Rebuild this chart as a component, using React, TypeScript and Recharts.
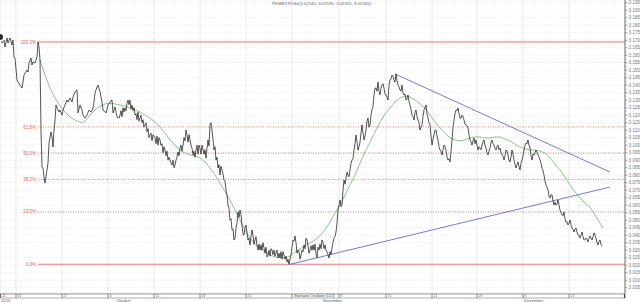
import React from 'react';
import { ComposedChart, Line, XAxis, YAxis, CartesianGrid, ReferenceLine } from 'recharts';

// time index (hours since start of window) and closing prices
const priceTimes = [0,2,4,5,7,8,10,12,13,14,15,17,18,20,22,23,24,25,27,28,29,31,32,33,35,37,38,39,40,41,42,43,44,45,47,48,49,51,52,53,54,55,56,57,59,60,62,63,65,67,68,70,72,73,75,77,78,80,82,83,85,87,89,91,93,94,95,97,98,100,102,103,106,108,110,112,113,115,117,119,
120,125,128,132,135,140,145,150,155,160,165,170,172,175,178,180,183,186,190,193,196,200,203,206,208,210,212,214,216,218,220,222,224,226,228,230,232,234,236,238,240,242,244,246,248,250,252,255,258,261,264,268,272,276,280,284,287,289,291,293,295,298,301,304,307,310,313,316,319,322,325,327,329,332,334,336,338,340,342,344,346,348,350,352,354,356,358,360,362,364,366,368,370,372,374,376,378,380,382,384,386,388,390,392,394,396,398,400,402,404,406,408,410,412,414,416,418,420,422,424,426,428,430,432,434,436,438,440,442,444,446,448,450,452,454,456,458,460,462,464,466,468,470,472,474,476,478,480,482,484,486,488,490,492,494,496,498,500,502,504,506,508,510,512,514,516,518,520,522,524,526,528,530,532,534,536,538,540,542,544,546,548,550,552,554,556,558,560,562,564,566,568,570,572,574,576,578,580,582,584,586,588,590,592,594,596,598,600,602];
const prices = [3.1721,3.1681,3.1701,3.1655,3.1715,3.1681,3.1715,3.1668,3.1701,3.1588,3.1581,3.1435,3.1421,3.1401,3.1381,3.1421,3.1468,3.1481,3.1501,3.1488,3.1548,3.1581,3.1535,3.1555,3.1548,3.1588,3.1688,3.1655,3.1568,3.1101,3.0855,3.0848,3.0788,3.0748,3.0835,3.0881,3.1015,3.1088,3.1055,3.0988,3.1101,3.1168,3.1268,3.1248,3.1221,3.1235,3.1201,3.1235,3.1268,3.1301,3.1288,3.1315,3.1288,3.1321,3.1355,3.1368,3.1215,3.1268,3.1235,3.1201,3.1181,3.1201,3.1235,3.1221,3.1248,3.1288,3.1348,3.1388,3.1401,3.1355,3.1288,3.1235,3.1215,3.1268,3.1288,3.1301,3.1215,3.1255,3.1188,3.1181,
3.1201,3.1248,3.1301,3.1268,3.1201,3.1181,3.1135,3.1068,3.1048,3.1035,3.0968,3.0901,3.0868,3.0868,3.0955,3.0981,3.1001,3.1101,3.1035,3.0935,3.0968,3.0981,3.0968,3.0915,3.1035,3.1135,3.1101,3.0968,3.0901,3.0848,3.0801,3.0835,3.0768,3.0701,3.0601,3.0501,3.0435,3.0368,3.0448,3.0555,3.0568,3.0468,3.0401,3.0468,3.0368,3.0335,3.0435,3.0368,3.0301,3.0335,3.0315,3.0268,3.0301,3.0281,3.0248,3.0268,3.0221,3.0206,3.0268,3.0368,3.0395,3.0301,3.0268,3.0335,3.0368,3.0301,3.0335,3.0275,3.0301,3.0368,3.0335,3.0288,3.0248,3.0315,3.0381,3.0421,3.0568,3.0635,3.0601,3.0768,3.0781,3.0801,3.0835,3.0901,3.0968,3.1068,3.0968,3.1021,3.1135,3.1035,3.1101,3.1181,3.1135,3.1235,3.1335,3.1381,3.1421,3.1335,3.1401,3.1381,3.1335,3.1301,3.1435,3.1468,3.1435,3.1475,3.1401,3.1368,3.1401,3.1335,3.1301,3.1335,3.1268,3.1201,3.1168,3.1235,3.1168,3.1101,3.1135,3.1235,3.1268,3.1181,3.1135,3.1001,3.1068,3.1101,3.1035,3.0968,3.0935,3.1001,3.0968,3.0901,3.0888,3.1035,3.1168,3.1235,3.1248,3.1181,3.1201,3.1168,3.1135,3.1115,3.1035,3.1001,3.1048,3.1035,3.0968,3.0981,3.1001,3.1035,3.0981,3.0935,3.0981,3.1035,3.1001,3.0968,3.1001,3.0981,3.0935,3.0901,3.0968,3.0935,3.0888,3.0968,3.0901,3.0848,3.0888,3.0835,3.0901,3.0968,3.1015,3.1035,3.0981,3.0901,3.0935,3.0968,3.0935,3.0901,3.0848,3.0801,3.0735,3.0701,3.0648,3.0668,3.0601,3.0601,3.0635,3.0568,3.0535,3.0555,3.0488,3.0468,3.0501,3.0448,3.0421,3.0448,3.0401,3.0381,3.0421,3.0368,3.0381,3.0355,3.0395,3.0368,3.0415,3.0381,3.0335,3.0368,3.0328];

// intermediate (in-between) closes
const priceTimesFine = [121,122,123,124,126,127,129,130,131,133,134,136,137,138,139,141,142,143,144,146,147,148,149,151,152,153,154,156,157,158,159,161,162,163,164,166,167,168,169,171,173,174,176,177,179,181,182,184,185,187,188,189,191,192,194,195,197,198,199,201,202,204,205,207,
209,211,213,215,217,219,221,223,225,227,229,231,233,235,237,239,241,243,245,247,249,251,253,254,256,257,259,260,262,263,265,266,267,269,270,271,273,274,275,277,278,279,281,282,283,285,286,288,290,292,294,296,297,299,300,302,303,305,306,308,309,311,312,314,315,317,318,320,321,323,324,326,328,330,331,333,335,337,339,341,343,345,347,349,351,353,355,357,359,361,363,365,367,369,371,373,375,377,379,381,383,385,387,389,391,393,395,397,399,401,403,405,407,409,411,413,415,417,419,421,423,425,427,429,431,433,435,437,439,441,443,445,447,449,451,453,455,457,459,461,463,465,467,469,471,473,475,477,479,481,483,485,487,489,491,493,495,497,499,501,503,505,507,509,511,513,515,517,519,521,523,525,527,529,531,533,535,537,539,541,543,545,547,549,551,553,555,557,559,561,563,565,567,569,571,573,575,577,579,581,583,585,587,589,591,593,595,597,599,601];
const pricesFine = [3.1230,3.1190,3.1250,3.1220,3.1230,3.1280,3.1270,3.1300,3.1240,3.1230,3.1250,3.1210,3.1170,3.1220,3.1160,3.1200,3.1150,3.1170,3.1120,3.1150,3.1090,3.1110,3.1050,3.1080,3.1030,3.1070,3.1060,3.1010,3.1060,3.1000,3.1050,3.1000,3.1010,3.0950,3.0990,3.0930,3.0960,3.0900,3.0920,3.0880,3.0900,3.0850,3.0900,3.0920,3.0930,3.1000,3.0960,3.1050,3.1030,3.1070,3.1020,3.1070,3.1000,3.0980,3.0960,3.0920,3.1000,3.0940,3.1000,3.0940,3.1000,3.0940,3.0970,3.0980,
3.0995,3.1150,3.1040,3.0990,3.0920,3.0870,3.0860,3.0810,3.0760,3.0670,3.0580,3.0510,3.0440,3.0380,3.0480,3.0520,3.0540,3.0410,3.0450,3.0420,3.0380,3.0390,3.0400,3.0340,3.0390,3.0330,3.0340,3.0300,3.0300,3.0350,3.0280,3.0320,3.0255,3.0300,3.0260,3.0310,3.0270,3.0300,3.0260,3.0300,3.0250,3.0280,3.0290,3.0240,3.0290,3.0240,3.0260,3.0240,3.0240,3.0320,3.0360,3.0350,3.0280,3.0290,3.0240,3.0300,3.0290,3.0310,3.0380,3.0330,3.0280,3.0330,3.0300,3.0300,3.0340,3.0250,3.0320,3.0340,3.0310,3.0350,3.0310,3.0300,3.0270,3.0290,3.0270,3.0350,3.0390,3.0480,3.0600,3.0590,3.0700,3.0740,3.0820,3.0790,3.0880,3.0910,3.1010,3.1020,3.0990,3.1080,3.1080,3.1060,3.1160,3.1120,3.1200,3.1260,3.1380,3.1360,3.1360,3.1380,3.1410,3.1340,3.1320,3.1400,3.1440,3.1460,3.1420,3.1430,3.1390,3.1360,3.1350,3.1340,3.1310,3.1290,3.1240,3.1190,3.1220,3.1190,3.1150,3.1120,3.1190,3.1250,3.1210,3.1150,3.1060,3.1040,3.1100,3.1060,3.0990,3.0960,3.0970,3.0990,3.0920,3.0910,3.0960,3.1120,3.1210,3.1230,3.1210,3.1180,3.1190,3.1140,3.1130,3.1070,3.1020,3.1030,3.1010,3.1000,3.0990,3.0970,3.1020,3.1000,3.0950,3.0960,3.1020,3.1010,3.0980,3.0990,3.0970,3.0950,3.0930,3.0930,3.0960,3.0900,3.0920,3.0940,3.0870,3.0870,3.0860,3.0880,3.0930,3.1000,3.1010,3.1000,3.0930,3.0940,3.0950,3.0950,3.0920,3.0880,3.0830,3.0760,3.0720,3.0660,3.0670,3.0630,3.0620,3.0610,3.0600,3.0550,3.0530,3.0510,3.0490,3.0480,3.0470,3.0440,3.0440,3.0420,3.0400,3.0400,3.0390,3.0370,3.0370,3.0380,3.0380,3.0390,3.0400,3.0350,3.0360,3.0340];

// moving average
const maTimes = [40,45,50,55,60,65,70,75,80,82,86,90,95,100,105,110,115,120,125,130,135,140,145,150,155,160,165,170,175,180,185,190,195,200,205,210,215,220,225,230,235,240,245,250,255,260,265,270,275,280,285,290,295,300,305,310,315,320,325,330,335,340,345,350,355,360,365,370,375,380,385,390,395,400,405,410,415,420,425,430,435,440,445,450,455,460,465,470,475,480,485,490,495,500,505,510,515,520,525,530,535,540,545,550,555,560,565,570,575,580,585,590,595,600,603];
const maValues = [3.1568,3.1468,3.1381,3.1315,3.1261,3.1221,3.1188,3.1168,3.1155,3.1148,3.1168,3.1201,3.1235,3.1261,3.1275,3.1281,3.1275,3.1268,3.1261,3.1248,3.1235,3.1221,3.1201,3.1181,3.1155,3.1121,3.1081,3.1035,3.1001,3.0968,3.0948,3.0935,3.0928,3.0915,3.0888,3.0848,3.0801,3.0748,3.0688,3.0635,3.0568,3.0501,3.0435,3.0381,3.0341,3.0315,3.0288,3.0268,3.0255,3.0248,3.0248,3.0261,3.0288,3.0308,3.0328,3.0348,3.0368,3.0395,3.0435,3.0488,3.0548,3.0601,3.0668,3.0735,3.0801,3.0881,3.0955,3.1021,3.1088,3.1155,3.1208,3.1248,3.1288,3.1315,3.1328,3.1321,3.1301,3.1275,3.1248,3.1201,3.1155,3.1115,3.1081,3.1048,3.1035,3.1028,3.1035,3.1048,3.1055,3.1055,3.1048,3.1048,3.1055,3.1055,3.1041,3.1028,3.1008,3.0988,3.0975,3.0968,3.0968,3.0961,3.0948,3.0915,3.0875,3.0835,3.0788,3.0735,3.0688,3.0648,3.0615,3.0588,3.0535,3.0481,3.0448];

const swingHigh = { t: 38, v: 3.1688 };
const swingLow = { t: 289, v: 3.0206 };
const fibLevels = [1, 0.618, 0.5, 0.382, 0.236, 0];
const fibLabels = ['100.0%', '61.8%', '50.0%', '38.2%', '23.6%', '0.0%'];
const upperTrend = [{ t: 395, v: 3.1475 }, { t: 610, v: 3.0821 }];
const lowerTrend = [{ t: 290, v: 3.0206 }, { t: 610, v: 3.0721 }];

const yTicks = [3.195,3.190,3.185,3.180,3.175,3.170,3.165,3.160,3.155,3.150,3.145,3.140,3.135,3.130,3.125,3.120,3.115,3.110,3.105,3.100,3.095,3.090,3.085,3.080,3.075,3.070,3.065,3.060,3.055,3.050,3.045,3.040,3.035,3.030,3.025,3.020,3.015,3.010,3.005];
const weekTicks = [16, 62, 108, 154, 200, 246, 292, 339, 386, 432, 477, 523, 569];
const weekLabels = ['20', '27', '4', '11', '18', '25', '1', '8', '15', '22', '29', '6', '13'];
const monthTimes = [0, 115, 322, 523];
const monthLabels = ['2010', 'Oktober', 'November', 'Dezember'];
const titleText = 'PDMB3 PLN=(3.02540, 3.02595, 3.02305, 3.02345)';

const X_DOMAIN: [number, number] = [0, 625];
const Y_DOMAIN: [number, number] = [3.0008, 3.1968];

const byTime = new Map<number, any>();
const put = (t: number, key: string, v: number) => byTime.set(t, { ...(byTime.get(t) || { t }), [key]: v });
priceTimes.forEach((t, i) => put(t, 'price', prices[i]));
priceTimesFine.forEach((t, i) => put(t, 'price', pricesFine[i]));
maTimes.forEach((t, i) => put(t, 'ma', maValues[i]));
const data = Array.from(byTime.values()).sort((a, b) => a.t - b.t);

const FONT = 'Liberation Sans, Arial, sans-serif';

const YTick = (props: any) => {
  const { x, y, payload } = props;
  return (
    <g>
      <line x1={x} x2={x + 2.5} y1={y} y2={y} stroke="#666" strokeWidth={0.6} />
      <line x1={x} x2={x + 1.5} y1={y + 3.75} y2={y + 3.75} stroke="#888" strokeWidth={0.5} />
      <text x={x + 3.6} y={y + 1.6} fontSize={4.6} fill="#777" fontFamily={FONT}>
        {Number(payload.value).toFixed(3)}
      </text>
    </g>
  );
};

const XTick = (props: any) => {
  const { x, payload, index } = props;
  const top = 294;
  const label = weekLabels[weekTicks.indexOf(payload.value)] ?? '';
  return (
    <g>
      {index === 0 && (
        <g>
          <rect x={0.5} y={top} width={624.5} height={4} fill="#fff" stroke="#777" strokeWidth={0.6} />
          <line x1={0.5} x2={0.5} y1={top} y2={top + 4} stroke="#555" strokeWidth={0.8} />
          <text x={2} y={top + 3.3} fontSize={3.4} fill="#666" fontFamily={FONT}>21</text>
          {monthTimes.map((mt, i) => (
            <text key={i} x={(mt / X_DOMAIN[1]) * 625 + 1} y={top + 7.8} fontSize={4.2} fill="#666" fontFamily={FONT}>
              {monthLabels[i]}
            </text>
          ))}
          <text x={294} y={top + 3.3} fontSize={3.4} fill="#444" fontFamily={FONT}>Stochastic Oscillator (14,3)</text>
          <line x1={624.5} x2={624.5} y1={top} y2={top + 4} stroke="#444" strokeWidth={1.2} />
        </g>
      )}
      <line x1={x} x2={x} y1={top} y2={top + 4} stroke="#555" strokeWidth={0.7} />
      {payload.value !== 292 && (
        <text x={x + 1.5} y={top + 3.3} fontSize={3.4} fill="#666" fontFamily={FONT}>{label}</text>
      )}
    </g>
  );
};

export default function App() {
  const range = swingHigh.v - swingLow.v;
  return (
    <div style={{ position: 'absolute', left: 0, top: 0, width: 640, height: 302, background: '#fff', overflow: 'hidden' }}>
      <ComposedChart width={640} height={302} data={data} margin={{ top: 0, right: 0, bottom: 0, left: 0 }}>
        <CartesianGrid horizontal={false} vertical={true} stroke="#e4e4e4" strokeWidth={0.8} />
        <CartesianGrid horizontal={true} vertical={false} stroke="#d8d8d8" strokeDasharray="1 1.5" strokeWidth={0.6} />
        <XAxis
          dataKey="t"
          type="number"
          domain={X_DOMAIN}
          ticks={weekTicks}
          height={8}
          tick={<XTick />}
          tickLine={false}
          axisLine={{ stroke: '#888', strokeWidth: 0.6 }}
          interval={0}
          allowDataOverflow
        />
        <YAxis
          orientation="right"
          type="number"
          domain={Y_DOMAIN}
          ticks={yTicks}
          width={15}
          tick={<YTick />}
          tickLine={false}
          tickSize={0}
          tickMargin={0}
          axisLine={{ stroke: '#555', strokeWidth: 0.8 }}
          interval={0}
          allowDataOverflow
        />
        {fibLevels.map((lvl, i) => {
          const v = swingLow.v + lvl * range;
          const solid = lvl === 1 || lvl === 0;
          return (
            <ReferenceLine
              key={i}
              segment={[{ x: swingHigh.t, y: v }, { x: X_DOMAIN[1], y: v }]}
              stroke={solid ? '#e87878' : '#e06060'}
              strokeWidth={solid ? 1.1 : 0.8}
              strokeDasharray={solid ? undefined : '1 1.5'}
              label={{ value: fibLabels[i], position: 'left', offset: 2, fontSize: 4.5, fill: '#e06060', fontFamily: FONT }}
              ifOverflow="visible"
            />
          );
        })}
        <ReferenceLine
          segment={[{ x: upperTrend[0].t, y: upperTrend[0].v }, { x: upperTrend[1].t, y: upperTrend[1].v }]}
          stroke="#6a6ad0"
          strokeWidth={0.9}
          ifOverflow="visible"
        />
        <ReferenceLine
          segment={[{ x: lowerTrend[0].t, y: lowerTrend[0].v }, { x: lowerTrend[1].t, y: lowerTrend[1].v }]}
          stroke="#6a6ad0"
          strokeWidth={0.9}
          ifOverflow="visible"
        />
        <Line
          dataKey="ma"
          type="linear"
          stroke="#7cc07c"
          strokeWidth={0.9}
          dot={false}
          connectNulls
          isAnimationActive={false}
        />
        <Line
          dataKey="price"
          type="linear"
          stroke="#2a2a2a"
          strokeWidth={0.8}
          dot={false}
          connectNulls
          isAnimationActive={false}
        />
      </ComposedChart>
      <div style={{ position: 'absolute', left: 272, top: 0.5, fontSize: 4.3, color: '#666', fontFamily: FONT, whiteSpace: 'nowrap', lineHeight: '5px' }}>
        {titleText}
      </div>
    </div>
  );
}
